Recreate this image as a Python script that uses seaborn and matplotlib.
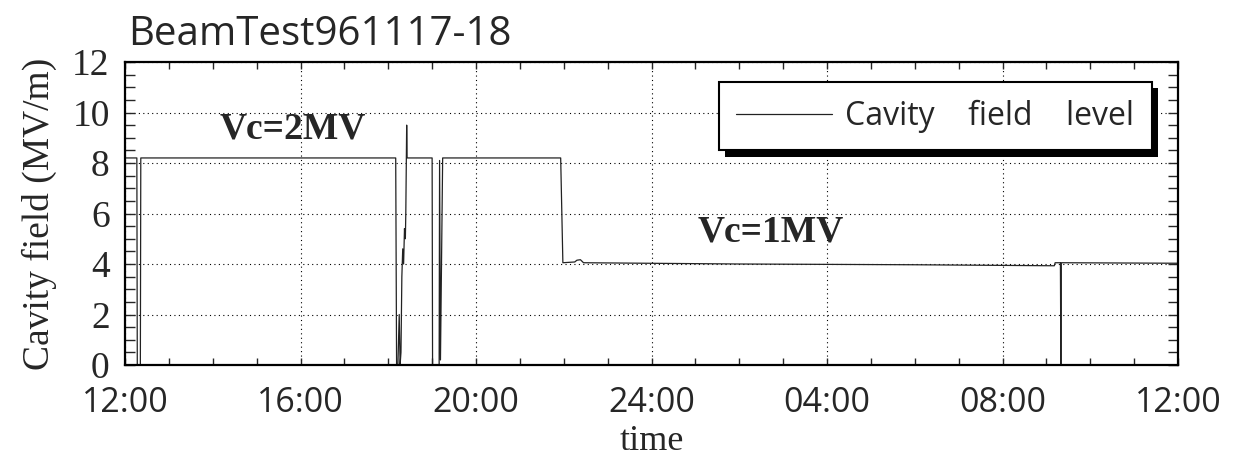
import matplotlib
matplotlib.use("Agg")
import matplotlib.pyplot as plt
import matplotlib.patheffects as pe
from matplotlib.ticker import MultipleLocator, FixedLocator
import seaborn as sns
import pandas as pd

# ---- data (hours after 12:00 on day 1, cavity field in MV/m) ----
hours = [0.00, 0.27, 0.28, 0.35, 0.36, 6.17, 6.19, 6.22, 6.25, 6.27, 6.29,
         6.31, 6.33, 6.35, 6.37, 6.39, 6.40, 6.42, 6.43, 7.00, 7.01, 7.16,
         7.17, 7.19, 7.24, 9.93, 9.98, 10.25, 10.30, 10.38, 10.45, 14.0,
         18.0, 21.18, 21.20, 21.32, 21.33, 21.34, 24.0]
field = [8.2, 8.2, 0.0, 0.0, 8.2, 8.2, 0.0, 0.0, 2.0, 0.0, 0.5,
         3.5, 4.6, 4.0, 5.4, 5.0, 6.0, 9.5, 8.2, 8.2, 0.0, 0.0,
         8.1, 0.2, 8.2, 8.2, 4.05, 4.08, 4.15, 4.17, 4.05, 4.0,
         3.97, 3.93, 4.05, 4.05, 0.0, 4.05, 4.03]
x_ticks = [0, 4, 8, 12, 16, 20, 24]
x_tick_labels = ["12:00", "16:00", "20:00", "24:00", "04:00", "08:00", "12:00"]
y_ticks = [0, 2, 4, 6, 8, 10, 12]
series_label = "Cavity    field    level"
title = "BeamTest961117-18"
notes = [("Vc=2MV", 3.83, 9.35), ("Vc=1MV", 14.72, 5.25)]

df = pd.DataFrame({"hours": hours, "field": field})

sns.set_style("ticks")
plt.rcParams["font.family"] = ["Open Sans", "DejaVu Sans"]

fig = plt.figure(figsize=(12.42, 4.61), dpi=100)
ax = fig.add_axes([125 / 1242, 1 - 365 / 461, 1053 / 1242, 303 / 461])

sns.lineplot(data=df, x="hours", y="field", estimator=None, sort=False,
             color="#222222", lw=0.9, ax=ax, label=series_label)

ax.set_xlim(0, 24)
ax.set_ylim(0, 12)
ax.xaxis.set_major_locator(FixedLocator(x_ticks))
ax.set_xticklabels(x_tick_labels)
ax.xaxis.set_minor_locator(MultipleLocator(1))
ax.yaxis.set_major_locator(FixedLocator(y_ticks))
ax.yaxis.set_minor_locator(MultipleLocator(0.5))

ax.grid(True, which="major", color="k", lw=0.8, ls=(0, (1, 3)))

for s in ax.spines.values():
    s.set_visible(True)
    s.set_color("k")
    s.set_linewidth(1.6)

ax.tick_params(axis="x", which="both", direction="in", top=True, bottom=True,
               length=5, width=1, pad=15, labelsize=24.5)
ax.tick_params(axis="y", which="both", direction="in", left=True, right=True,
               length=7.5, width=1, pad=11, labelsize=27)
for lab in ax.get_yticklabels():
    lab.set_fontfamily(["Liberation Serif", "DejaVu Serif"])

ax.set_xlabel("time", fontsize=26, family=["Liberation Serif"], labelpad=4)
ax.set_ylabel("Cavity field (MV/m)", fontsize=27, family=["Liberation Serif"], labelpad=11)

for txt, xx, yy in notes:
    ax.text(xx, yy, txt, ha="center", va="center", fontsize=27, fontweight="bold",
            family=["Liberation Serif"])

fig.text(128 / 1242, 1 - 45 / 461, title, fontsize=29, ha="left", va="baseline")

leg = ax.legend(loc="upper right", bbox_to_anchor=(0.975, 0.934), borderaxespad=0,
                fontsize=23, frameon=True, fancybox=False, handlelength=3.0,
                handletextpad=0.4, borderpad=0.55)
frame = leg.get_frame()
frame.set_edgecolor("k")
frame.set_linewidth(1.5)
frame.set_alpha(1)
frame.set_path_effects([pe.SimplePatchShadow(offset=(4.5, -4.5), shadow_rgbFace="k", alpha=1),
                        pe.Normal()])
for line in leg.get_lines():
    line.set_linewidth(0.9)

fig.savefig("out.png", dpi=100)
